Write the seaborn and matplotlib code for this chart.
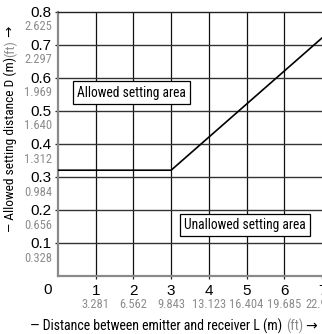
import matplotlib
matplotlib.use("Agg")
import matplotlib.pyplot as plt
import seaborn as sns
import pandas as pd
from matplotlib import font_manager
from matplotlib.font_manager import FontProperties

# ---- data ----
distance_m = [0, 3, 7]
allowed_d_m = [0.32, 0.32, 0.72]
x_ticks_m = [1, 2, 3, 4, 5, 6, 7]
x_ticks_ft = ["3.281", "6.562", "9.843", "13.123", "16.404", "19.685", "22.966"]
y_ticks_m = [0.1, 0.2, 0.3, 0.4, 0.5, 0.6, 0.7, 0.8]
y_ticks_ft = ["0.328", "0.656", "0.984", "1.312", "1.640", "1.969", "2.297", "2.625"]
area_labels = ["Allowed setting area", "Unallowed setting area"]
area_pos_x = [1.96, 4.96]
area_pos_y = [0.555, 0.153]
x_title = ["\u2014 Distance between emitter and receiver L (m) ", "(ft)", " \u2192"]
y_title = ["\u2014 Allowed setting distance D (m)", "(ft)", " \u2192"]

sns.set_theme(style="white")
plt.rcParams["font.family"] = ["Liberation Sans", "DejaVu Sans"]

W, H = 322, 334
fig = plt.figure(figsize=(W / 100, H / 100), dpi=100)
fig.patch.set_facecolor("white")
fig.canvas.draw()
renderer = fig.canvas.get_renderer()

# pick the available sans font whose width best matches a narrow grotesque
candidates = [("Liberation Sans Narrow", "normal"), ("DejaVu Sans", "condensed"),
              ("Roboto Condensed", "normal"), ("Open Sans Condensed", "normal"),
              ("Noto Sans", "condensed"), ("Noto Sans", "semi-condensed"),
              ("Roboto", "condensed"), ("Open Sans", "condensed"),
              ("Open Sans", "semi-condensed"), ("Roboto", "normal"),
              ("Liberation Sans", "normal"), ("DejaVu Sans", "normal")]
XT = "".join(x_title)
best = None
for fam, st in candidates:
    try:
        font_manager.findfont(FontProperties(family=fam, stretch=st),
                              fallback_to_default=False)
    except Exception:
        continue
    t = fig.text(0, 0, XT, family=[fam, "DejaVu Sans"], stretch=st, fontsize=10)
    w = t.get_window_extent(renderer).width
    t.remove()
    size = 10 * 288 / w
    score = abs(size - 10.2)
    if best is None or score < best[2]:
        best = (fam, st, score)
NFAM, NST = best[0], best[1]
FAMS = [NFAM, "DejaVu Sans"]


def measure(txt, size):
    t = fig.text(0, 0, txt, family=FAMS, stretch=NST, fontsize=size)
    bb = t.get_window_extent(renderer)
    t.remove()
    return bb.width


def fit(txt, target, base=10.0, cap=11.0):
    return min(cap, base * target / measure(txt, base))


ax = fig.add_axes([58 / W, 1 - 276 / H, 1 - 58 / W, (276 - 11.5) / H])
ax.set_facecolor("white")

df = pd.DataFrame({"L": distance_m, "D": allowed_d_m})
sns.lineplot(data=df, x="L", y="D", ax=ax, color="black", linewidth=1.2, zorder=5)
ax.set_xlim(0, 7)
ax.set_ylim(0, 0.8)
ax.set_xlabel("")
ax.set_ylabel("")

for x in x_ticks_m[:-1]:
    ax.axvline(x, color="#111111", lw=0.9, zorder=1)
for y in y_ticks_m[:-1]:
    ax.axhline(y, color="#333333", lw=1.0, zorder=1)

for s in ["left", "bottom"]:
    ax.spines[s].set_color("#8a8a8a")
    ax.spines[s].set_linewidth(1.6)
ax.spines["top"].set_color("#222222")
ax.spines["top"].set_linewidth(1.0)
ax.spines["right"].set_visible(False)

ax.set_xticks(x_ticks_m)
ax.set_xticklabels([str(v) for v in x_ticks_m], fontsize=11, color="black")
ax.set_yticks(y_ticks_m)
ax.set_yticklabels([f"{v:.1f}" for v in y_ticks_m], fontsize=11, color="black")
ax.tick_params(axis="both", which="both", direction="out", length=2.5, width=0.9,
               color="#222222", bottom=True, left=True)
ax.tick_params(axis="x", pad=3)
ax.tick_params(axis="y", pad=2)

# secondary (ft) tick labels
sec_size = fit("13.123", 34, cap=10.5)
for v, lab in zip(y_ticks_m, y_ticks_ft):
    ax.annotate(lab, xy=(0, v), xycoords=("axes fraction", "data"),
                xytext=(-4.2, -11.0), textcoords="offset points",
                ha="right", va="center", fontsize=sec_size, color="#8c8c8c",
                family=FAMS, stretch=NST, annotation_clip=False)
for v, lab in zip(x_ticks_m, x_ticks_ft):
    ax.annotate(lab, xy=(v, 0), xycoords=("data", "axes fraction"),
                xytext=(0, -20.5), textcoords="offset points",
                ha="center", va="center", fontsize=sec_size, color="#8c8c8c",
                family=FAMS, stretch=NST, annotation_clip=False)

fig.text(47.5 / W, 1 - 290 / H, "0", ha="center", va="center", fontsize=11, color="black")

box_size = min(fit(area_labels[0], 116), fit(area_labels[1], 121))
for lab, x, y in zip(area_labels, area_pos_x, area_pos_y):
    ax.text(x, y, lab, ha="center", va="center", fontsize=box_size,
            family=FAMS, stretch=NST, color="black", zorder=6,
            bbox=dict(boxstyle="square,pad=0.3", fc="white", ec="black", lw=0.9))


def multi_text(pieces, cx, cy, target, rotation=0):
    size = fit("".join(pieces), target)
    cols = ["black", "#8c8c8c", "black"]
    made = []
    for txt, col in zip(pieces, cols):
        t = fig.text(0, 0, txt, color=col, fontsize=size, family=FAMS,
                     stretch=NST, rotation=rotation, ha="left", va="center",
                     rotation_mode="anchor", transform=None)
        made.append(t)
    widths = []
    for t in made:
        bb = t.get_window_extent(renderer)
        widths.append(bb.height if rotation == 90 else bb.width)
    total = sum(widths)
    if rotation == 90:
        pos = (H - cy) - total / 2
        for t, w in zip(made, widths):
            t.set_position((cx, pos))
            pos += w
    else:
        pos = cx - total / 2
        for t, w in zip(made, widths):
            t.set_position((pos, H - cy))
            pos += w


multi_text(x_title, 174, 326, 288)
multi_text(y_title, 10, 129, 204, rotation=90)

fig.savefig("out.png", dpi=100, facecolor="white")
